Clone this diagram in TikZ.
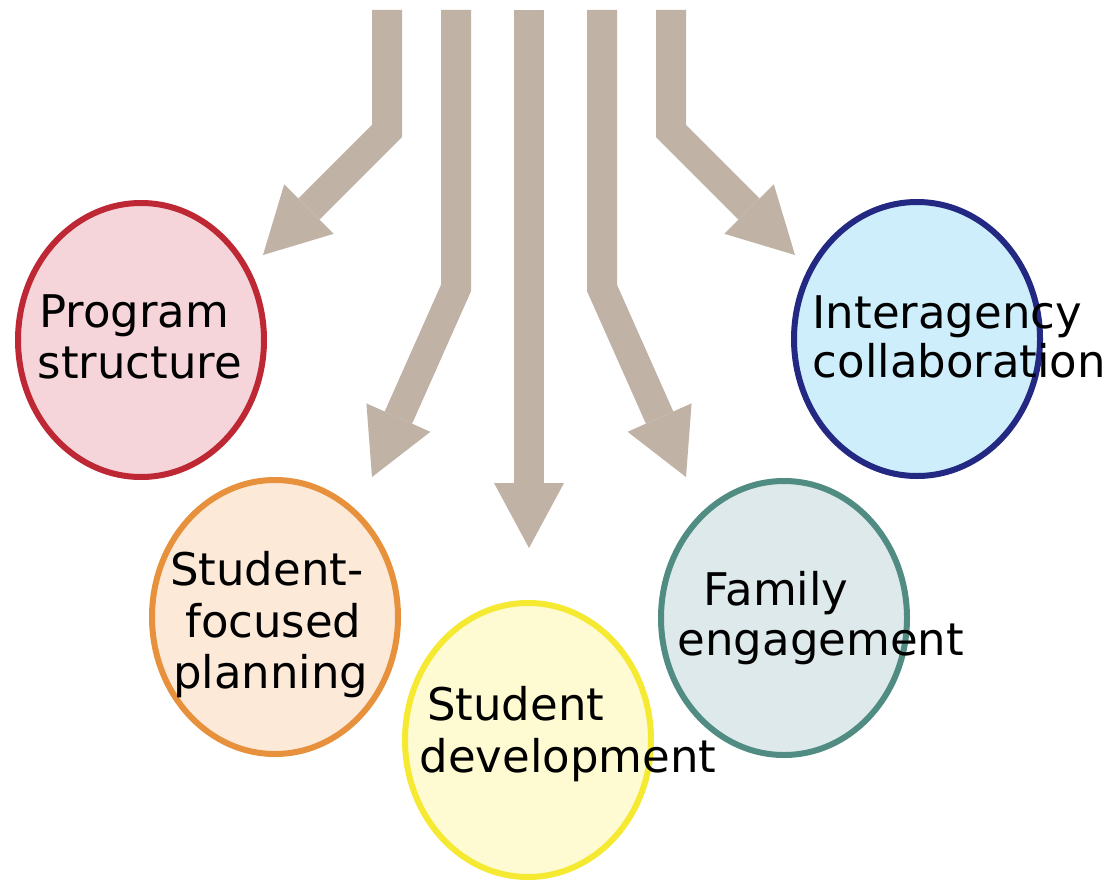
\documentclass[tikz,border=0pt]{standalone}
\usepackage{fontspec}
\setmainfont{DejaVu Sans}
\usetikzlibrary{arrows.meta,shapes.geometric}

\definecolor{arrowtan}{RGB}{192,178,165}
\definecolor{psline}{RGB}{190,40,52}
\definecolor{psfill}{RGB}{245,213,218}
\definecolor{spline}{RGB}{232,145,60}
\definecolor{spfill}{RGB}{252,233,216}
\definecolor{sdline}{RGB}{245,233,50}
\definecolor{sdfill}{RGB}{254,250,210}
\definecolor{feline}{RGB}{80,140,130}
\definecolor{fefill}{RGB}{221,233,235}
\definecolor{icline}{RGB}{35,40,130}
\definecolor{icfill}{RGB}{205,238,250}

\begin{document}
\begin{tikzpicture}[x=1pt,y=-1pt,
  flow/.style={draw=arrowtan, line width=30pt, line join=miter,
    -{Triangle[width=70pt,length=65pt,line width=0pt]}},
  topic/.style={ellipse, inner sep=0pt, line width=6pt,
    minimum width=246pt, minimum height=274pt},
  lbl/.style={anchor=base west, inner sep=0pt,
    font=\fontsize{45}{54}\selectfont, text=black}]
\useasboundingbox (0,0) rectangle (1115,885);
\fill[white] (0,0) rectangle (1115,885);

% five flow arrows coming down from the top
\coordinate (s1) at (387,10);  \coordinate (b1) at (387,131); \coordinate (t1) at (263,255);
\coordinate (s2) at (456,10);  \coordinate (b2) at (456,288); \coordinate (t2) at (372,477);
\coordinate (s3) at (529,10);  \coordinate (t3) at (529,548);
\coordinate (s4) at (602,10);  \coordinate (b4) at (602,288); \coordinate (t4) at (686,477);
\coordinate (s5) at (671,10);  \coordinate (b5) at (671,131); \coordinate (t5) at (795,255);

\draw[flow] (s1) -- (b1) -- (t1);
\draw[flow] (s2) -- (b2) -- (t2);
\draw[flow] (s3) -- (t3);
\draw[flow] (s4) -- (b4) -- (t4);
\draw[flow] (s5) -- (b5) -- (t5);

% topic circles
\node[topic, draw=psline, fill=psfill] (ps) at (141,340) {};
\node[topic, draw=spline, fill=spfill] (sp) at (275,617) {};
\node[topic, draw=sdline, fill=sdfill] (sd) at (528,740) {};
\node[topic, draw=feline, fill=fefill] (fe) at (784,618) {};
\node[topic, draw=icline, fill=icfill] (ic) at (917,339) {};

% labels
\node[lbl] (ps1) at (39,327) {Program};
\node[lbl] (ps2) at (37.5,378) {structure};
\node[lbl] (sp1) at (170,585) {Student-};
\node[lbl] (sp2) at (185,637) {focused};
\node[lbl] (sp3) at (173,688) {planning};
\node[lbl] (sd1) at (427,720) {Student};
\node[lbl] (sd2) at (419.5,772) {development};
\node[lbl] (fe1) at (703.5,605) {Family};
\node[lbl] (fe2) at (677.5,655) {engagement};
\node[lbl] (ic1) at (812.5,328) {Interagency};
\node[lbl] (ic2) at (812.5,377) {collaboration};
\end{tikzpicture}
\end{document}
